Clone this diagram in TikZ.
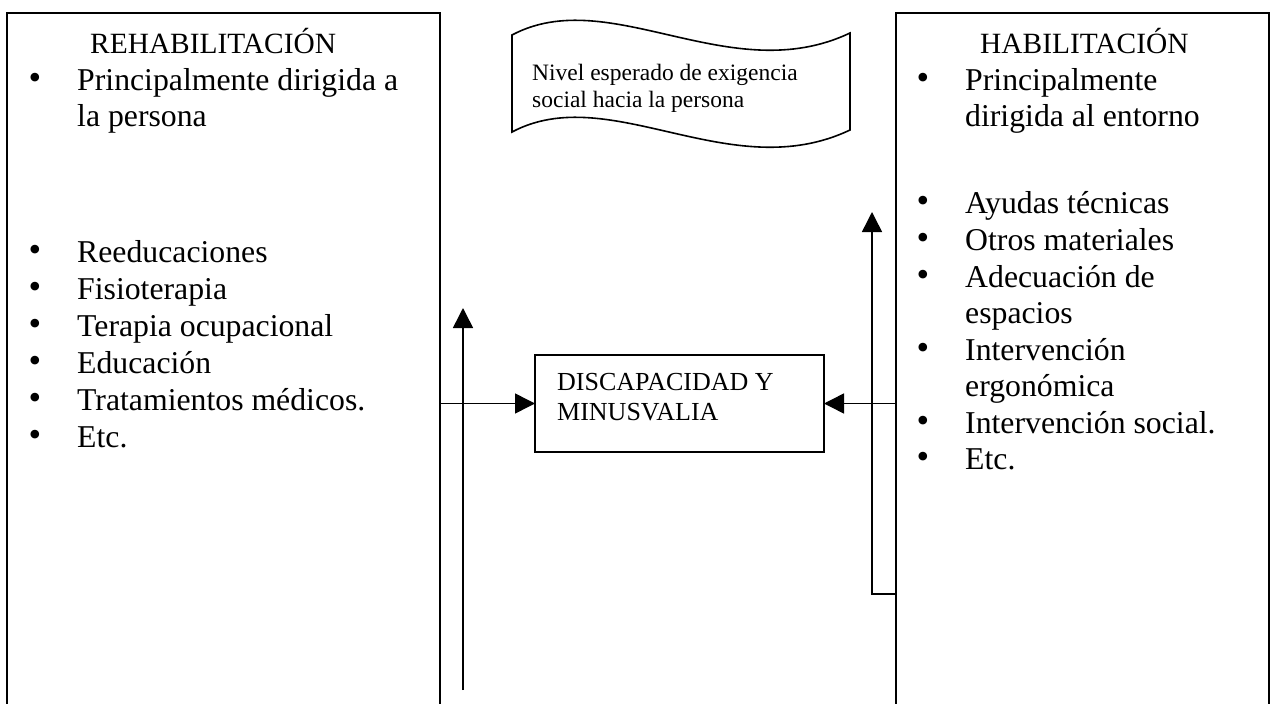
\documentclass[tikz,border=0pt]{standalone}
\usepackage{fontspec}
\setmainfont{Liberation Serif}
\usetikzlibrary{arrows.meta}
\begin{document}
\begin{tikzpicture}[x=1pt,y=-1pt,
  box/.style={draw, line width=1.6pt, inner sep=0pt, outer sep=0pt},
  ln/.style={line width=1.6pt},
  arr/.style={line width=1.5pt, -{Triangle[length=20pt,width=20pt]}},
  head/.style={anchor=base west, inner sep=0pt, font=\fontsize{29.4}{36}\selectfont},
  txt/.style={anchor=base west, inner sep=0pt, font=\fontsize{31.75}{36.5}\selectfont},
  bul/.style={anchor=base, inner sep=0pt, yshift=1pt, font=\fontsize{36}{36}\selectfont},
  small/.style={anchor=base west, inner sep=0pt, font=\fontsize{23.5}{27}\selectfont},
  mid/.style={anchor=base west, inner sep=0pt, font=\fontsize{26}{30}\selectfont}]
\path[use as bounding box] (0,0) rectangle (1278,704);
\clip (0,0) rectangle (1278,704);

% boxes
\node[box, anchor=north west, minimum width=433pt, minimum height=720pt] (lbox) at (7,13) {};
\node[box, anchor=north west, minimum width=373pt, minimum height=720pt] (rbox) at (896,13) {};
\node[box, anchor=north west, minimum width=289pt, minimum height=97pt] (disc) at (535,355) {};

% banner
\draw[ln] (512,35) .. controls (610,-17) and (730,90) .. (850,33) -- (850,130)
  .. controls (730,187) and (610,80) .. (512,132) -- cycle;
\node[small] (b1) at (532,80) {Nivel esperado de exigencia};
\node[small] (b2) at (532,107) {social hacia la persona};

% disc text
\node[mid] (d1) at (557,390) {DISCAPACIDAD Y};
\node[mid] (d2) at (557,420) {MINUSVALIA};

% left texts
\node[head] (lh) at (90,53) {REHABILITACIÓN};
\node[bul] (lb0) at (35,90) {•};
\node[txt] (l0) at (77,90) {Principalmente dirigida a};
\node[txt] (l0b) at (77,126) {la persona};
\node[bul] (lb1) at (35,262) {•};
\node[txt] (l1) at (77,262) {Reeducaciones};
\node[bul] (lb2) at (35,299) {•};
\node[txt] (l2) at (77,299) {Fisioterapia};
\node[bul] (lb3) at (35,336) {•};
\node[txt] (l3) at (77,336) {Terapia ocupacional};
\node[bul] (lb4) at (35,373) {•};
\node[txt] (l4) at (77,373) {Educación};
\node[bul] (lb5) at (35,410) {•};
\node[txt] (l5) at (77,410) {Tratamientos médicos.};
\node[bul] (lb6) at (35,447) {•};
\node[txt] (l6) at (77,447) {Etc.};

% right texts
\node[head] (rh) at (980,53) {HABILITACIÓN};
\node[bul] (rb0) at (923,90) {•};
\node[txt] (r0) at (965,90) {Principalmente};
\node[txt] (r0b) at (965,126) {dirigida al entorno};
\node[bul] (rb1) at (923,213) {•};
\node[txt] (r1) at (965,213) {Ayudas técnicas};
\node[bul] (rb2) at (923,250) {•};
\node[txt] (r2) at (965,250) {Otros materiales};
\node[bul] (rb3) at (923,287) {•};
\node[txt] (r3) at (965,287) {Adecuación de};
\node[txt] (r3b) at (965,323) {espacios};
\node[bul] (rb4) at (923,360) {•};
\node[txt] (r4) at (965,360) {Intervención};
\node[txt] (r4b) at (965,396) {ergonómica};
\node[bul] (rb5) at (923,433) {•};
\node[txt] (r5) at (965,433) {Intervención social.};
\node[bul] (rb6) at (923,469) {•};
\node[txt] (r6) at (965,469) {Etc.};

% connectors
\coordinate (lvb) at (463,690);
\coordinate (lvt) at (463,308);
\draw[arr] (lvb) -- (lvt);
\draw[arr] (lbox.east |- disc.west) -- (disc.west);
\draw[arr] (rbox.west |- disc.east) -- (disc.east);
\coordinate (rvc) at (872,594);
\coordinate (rvt) at (872,212);
\draw[arr] (rbox.west |- rvc) -- (rvc) -- (rvt);
\end{tikzpicture}
\end{document}
